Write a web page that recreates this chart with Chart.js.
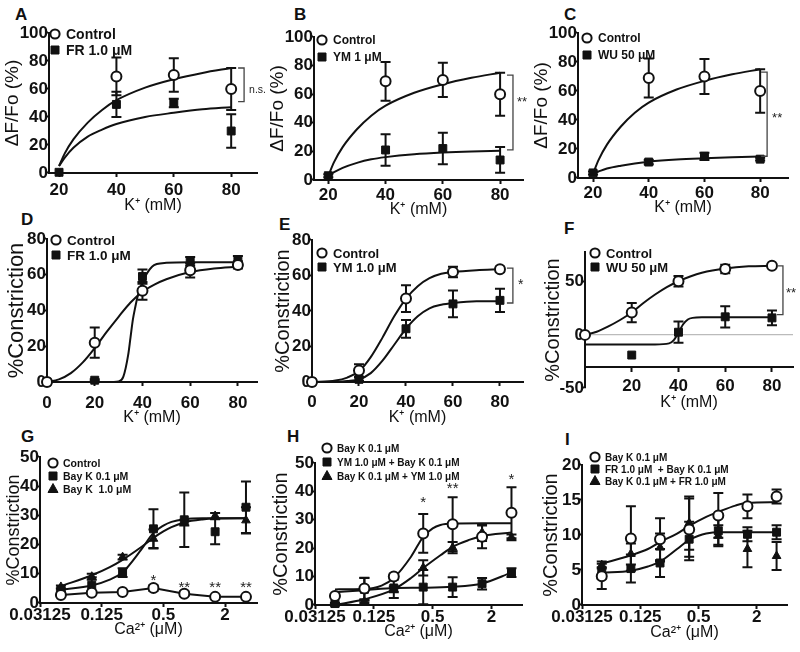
<!DOCTYPE html>
<html>
<head>
<meta charset="utf-8">
<script src="https://cdn.jsdelivr.net/npm/chart.js@4.4.1/dist/chart.umd.min.js"></script>
<style>
  body { margin: 0; background: #fff; width: 800px; height: 652px; overflow: hidden; position: relative; font-family: "Liberation Sans", Arial, sans-serif; }
  canvas { position: absolute; }
  .tag { position: absolute; font-weight: bold; font-size: 17px; line-height: 1; color: #111; }
</style>
</head>
<body>
<div class="tag" style="left:15px;top:6px">A</div>
<div class="tag" style="left:294px;top:6px">B</div>
<div class="tag" style="left:564px;top:6px">C</div>
<div class="tag" style="left:21px;top:211px">D</div>
<div class="tag" style="left:279px;top:216px">E</div>
<div class="tag" style="left:564px;top:220px">F</div>
<div class="tag" style="left:21px;top:428px">G</div>
<div class="tag" style="left:287px;top:428px">H</div>
<div class="tag" style="left:565px;top:431px">I</div>

<script>
// ---- K+ panels, Ca2+ fluorescence (A-C) ----
const kConc = [20, 40, 60, 80];
const kTicks = [20, 40, 60, 80];
const pctTicks = [0, 20, 40, 60, 80, 100];

const aControl = [null, 69, 70, 60];
const aControlErr = [0, 13.5, 12, 15];
const aFR = [0.5, 49, 50, 30];
const aFRErr = [0, 9, 3, 12];

const bControl = [null, 69, 70, 60];
const bControlErr = [0, 13.5, 12, 15];
const bYM = [3, 21, 22, 14];
const bYMErr = [1, 11, 11, 9];

const cControl = [null, 69, 70, 60];
const cControlErr = [0, 13.5, 12, 15];
const cWU = [3.5, 11, 15, 13];
const cWUErr = [1, 1.5, 2.5, 1];

// fitted curves
const fitK = [20, 22, 25, 30, 35, 40, 50, 60, 70, 80];
const aControlFit = [5, 14, 24, 36, 45, 52, 61, 67, 71.5, 75];
const aFRFit = [5, 11, 18, 26, 31, 35, 40, 43, 45.5, 47];
const bControlFit = [3, 12.5, 23, 35.5, 45, 52, 61, 67, 71.5, 75];
const bYMFit = [3, 5.5, 8.5, 12, 14.5, 16, 18, 19.2, 20, 20.5];
const cControlFit = [3, 12.5, 23, 35.5, 45, 52, 61, 67, 71.5, 75];
const cWUFit = [3, 4.5, 6.5, 8.5, 10, 11.2, 12.7, 13.6, 14.3, 14.8];

// ---- K+ panels, constriction (D-F) ----
const kConcD = [0, 20, 40, 60, 80];
const kTicksD = [0, 20, 40, 60, 80];
const conTicksD = [0, 20, 40, 60, 80];
const conTicksF = [-50, 0, 50];

const dControl = [0, 22, 51, 62.5, 65.5];
const dControlErr = [0, 8.5, 5, 4, 2];
const dFR = [0, 1, 59, 67.5, 68];
const dFRErr = [0, 0.5, 4, 2.5, 2.5];
const dControlFitX = [0, 5, 10, 15, 20, 25, 30, 35, 40, 45, 50, 60, 70, 80];
const dControlFit = [0, 1.5, 5, 11, 19, 28, 36.5, 44.5, 50.5, 54.5, 57.5, 61.5, 63.5, 64.5];
const dFRFitX = [0, 10, 20, 28, 30, 32, 34, 35, 36, 37, 38, 39, 40, 42, 44, 46, 50, 60, 70, 80];
const dFRFit = [0, 0, 0, 0, 0.3, 3, 15, 25, 35, 42, 48, 52, 56, 61, 64.5, 66, 66.7, 67, 67, 67];

const eControl = [0, 6.5, 47, 62, 63.5];
const eControlErr = [0, 3.5, 7.5, 3, 1.5];
const eYM = [0, 1.5, 30, 44, 46];
const eYMErr = [0, 1, 5, 7.5, 6.5];
const eFitX = [0, 10, 15, 20, 25, 30, 35, 40, 45, 50, 55, 60, 70, 80];
const eControlFit = [0, 0.8, 2.5, 6, 14, 25, 37, 47, 54, 58.5, 61, 62, 63, 63.5];
const eYMFit = [0, 0.2, 0.6, 1.5, 5, 12, 21, 30, 37, 41.5, 43.5, 44.5, 45.5, 45.5];

const fControl = [0, 21, 50.5, 62, 65];
const fControlErr = [0, 9, 5, 4, 1];
const fWU = [null, -19, 2.5, 17, 16];
const fWUErr = [0, 0, 10, 10, 7];
const fControlFitX = [0, 5, 10, 15, 20, 25, 30, 35, 40, 45, 50, 60, 70, 80];
const fControlFit = [0, 3, 8, 14, 21, 30, 38, 45, 50.5, 55, 58.5, 62.5, 64.5, 65];
const fWUFitX = [0, 30, 36, 38, 40, 42, 44, 46, 50, 60, 80];
const fWUFit = [-9, -9, -8, -5, 2, 10, 14.5, 16, 16.5, 16.5, 16.5];

// ---- Ca2+ panels (G-I) ----
const caConc = [0.05, 0.1, 0.2, 0.4, 0.8, 1.6, 3.2];
const caTicks = [0.03125, 0.125, 0.5, 2];
const conTicksGH = [0, 10, 20, 30, 40, 50];
const conTicksI = [0, 5, 10, 15, 20];

const gControl = [2.7, 3.5, 3.8, 5.1, 3.2, 2.1, 2.1];
const gControlErr = [0.3, 0.3, 0.3, 1, 0.8, 0.6, 0.4];
const gBay01 = [4.5, 6.1, 10.4, 25.4, 28.5, 24.4, 32.8];
const gBay01Err = [0.5, 2.7, 1.5, 6.7, 9.3, 4.3, 8.8];
const gBay1 = [5.5, 9, 15.7, 22, 27.5, 29.8, 28.3];
const gBay1Err = [0.5, 1, 0.8, 3.2, 1, 1, 4.5];
const gFitX = [0.05, 0.1, 0.15, 0.2, 0.3, 0.4, 0.5, 0.6, 0.8, 1.2, 1.6, 3.2];
const gBay01Fit = [4.5, 6, 8, 10.5, 18, 24, 26.5, 27.8, 28.7, 29, 29, 29];
const gBay1Fit = [5.8, 9.5, 12.3, 14.8, 19, 22.3, 24.5, 26, 27.6, 28.6, 28.9, 29];
const gSigX = [0.4, 0.8, 1.6, 3.2];
const gSigY = [9.2, 6.7, 6.7, 6.7];
const gSigText = ['*', '**', '**', '**'];

const hBay01 = [3.2, 5.8, 10, 25.2, 28.4, 24, 32.5];
const hBay01Err = [0.5, 3.8, 1, 6.8, 9.5, 4, 9];
const hYMBay = [0.5, 5.5, 6, 6.3, 6.3, 7.5, 11.4];
const hYMBayErr = [0.3, 4, 3.5, 6, 3.5, 2, 1.5];
const hBayYM = [0.2, 1.2, 5.5, 13.1, 20.2, 25.5, 23.8];
const hBayYMErr = [0.3, 0.5, 1, 2.7, 2, 3, 1];
const hBay01FitX = [0.05, 0.1, 0.15, 0.2, 0.3, 0.4, 0.5, 0.6, 0.8, 1.6, 3.2];
const hBay01Fit = [5.5, 5.6, 6.8, 9.5, 17, 24, 27, 28.2, 28.7, 28.8, 28.8];
const hBayYMFitX = [0.05, 0.1, 0.2, 0.3, 0.4, 0.6, 0.8, 1.2, 1.6, 3.2];
const hBayYMFit = [0, 2, 5.5, 9.5, 13, 17.5, 20.5, 23, 24.3, 25.5];
const hYMBayFit = [4.5, 5.2, 6, 6.1, 6.4, 7.6, 11.4];
const hSigX = [0.4, 0.8, 3.2];
const hSigY = [37.7, 42.6, 45.8];
const hSigText = ['*', '**', '*'];

const iBay01 = [4.1, 9.5, 9.4, 10.8, 12.8, 14.1, 15.5];
const iBay01Err = [1.8, 4.6, 3, 4.4, 3.2, 1.7, 1];
const iFRBay = [4.6, 5.2, 6, 9.4, 10.6, 10.1, 10.4];
const iFRBayErr = [0.8, 2, 2, 2.5, 2, 1, 1];
const iBayFR = [5.7, 7.3, 8.2, 11.7, 9.9, 8, 7];
const iBayFRErr = [0.5, 1.5, 2, 3.8, 1.5, 2.6, 2];
const iBay01FitX = [0.05, 0.1, 0.15, 0.2, 0.3, 0.4, 0.6, 0.8, 1.2, 1.6, 3.2];
const iBay01Fit = [5.9, 7.1, 8, 9, 10.2, 11.3, 12.6, 13.3, 14.2, 14.6, 14.7];
const iFRBayFitX = [0.05, 0.1, 0.15, 0.2, 0.3, 0.4, 0.5, 0.6, 0.8, 1.6, 3.2];
const iFRBayFit = [4.6, 4.9, 5.5, 6.2, 8, 9.3, 9.9, 10.2, 10.4, 10.4, 10.4];

const FONT = '"Liberation Sans", Arial, sans-serif';

function pts(xs, ys) {
  return xs.map((x, i) => ({ x, y: ys[i] }));
}

// marker datasets carry their SEM in "errors"
function pointSet(label, xs, ys, errs, shape, joined) {
  const open = shape === 'open';
  return {
    label,
    data: pts(xs, ys),
    errors: errs,
    shape,
    showLine: !!joined,
    borderColor: '#111',
    borderWidth: 2,
    tension: 0,
    pointStyle: open ? 'circle' : shape,
    pointRadius: shape === 'rect' ? 5.6 : 5,
    pointBackgroundColor: open ? '#fff' : '#111',
    pointBorderColor: '#111',
    pointBorderWidth: open ? 2 : 1,
    clip: false,
  };
}

function fitSet(xs, ys) {
  return {
    data: pts(xs, ys),
    showLine: true,
    pointRadius: 0,
    borderColor: '#111',
    borderWidth: 2,
    cubicInterpolationMode: 'monotone',
    clip: false,
  };
}

function drawMarker(ctx, shape, x, y) {
  ctx.save();
  ctx.strokeStyle = '#111';
  ctx.fillStyle = shape === 'open' ? '#fff' : '#111';
  ctx.lineWidth = shape === 'open' ? 2 : 1;
  ctx.beginPath();
  if (shape === 'open') ctx.arc(x, y, 4.6, 0, Math.PI * 2);
  else if (shape === 'rect') ctx.rect(x - 4, y - 4, 8, 8);
  else {
    ctx.moveTo(x, y - 5.5);
    ctx.lineTo(x + 5, y + 3.5);
    ctx.lineTo(x - 5, y + 3.5);
    ctx.closePath();
  }
  ctx.fill();
  ctx.stroke();
  ctx.restore();
}

// error bars under the marks, legend / brackets / stars on top
function marksPlugin(p) {
  return {
    id: 'marks' + p.tag,
    beforeDatasetsDraw(chart) {
      const { ctx, scales: { x, y } } = chart;
      ctx.save();
      ctx.strokeStyle = '#111';
      ctx.lineWidth = 2;
      chart.data.datasets.forEach((ds) => {
        if (!ds.errors) return;
        ds.data.forEach((pt, i) => {
          const e = ds.errors[i];
          if (pt.y == null || !e) return;
          const px = x.getPixelForValue(pt.x);
          const top = y.getPixelForValue(pt.y + e);
          const bot = y.getPixelForValue(pt.y - e);
          ctx.beginPath();
          ctx.moveTo(px, top); ctx.lineTo(px, bot);
          ctx.moveTo(px - 5, top); ctx.lineTo(px + 5, top);
          ctx.moveTo(px - 5, bot); ctx.lineTo(px + 5, bot);
          ctx.stroke();
        });
      });
      ctx.restore();
    },
    afterDatasetsDraw(chart) {
      const { ctx, chartArea, scales: { x, y } } = chart;
      ctx.save();
      // legend
      const lg = p.legend;
      ctx.font = `bold ${lg.size}px ${FONT}`;
      ctx.textBaseline = 'middle';
      ctx.textAlign = 'left';
      ctx.fillStyle = '#111';
      let row = 0;
      chart.data.datasets.forEach((ds) => {
        if (!ds.label) return;
        const mx = chartArea.left + lg.dx;
        const my = chartArea.top + lg.dy + row * lg.gap;
        drawMarker(ctx, ds.shape, mx, my);
        ctx.fillText(ds.label, mx + lg.tx, my + 1);
        row++;
      });
      // significance bracket
      if (p.bracket) {
        const b = p.bracket;
        const bx = x.getPixelForValue(b.x);
        const b1 = y.getPixelForValue(b.y1);
        const b2 = y.getPixelForValue(b.y2);
        ctx.strokeStyle = '#444';
        ctx.lineWidth = 1.3;
        ctx.beginPath();
        ctx.moveTo(bx - 6, b1); ctx.lineTo(bx, b1); ctx.lineTo(bx, b2); ctx.lineTo(bx - 6, b2);
        ctx.stroke();
        ctx.fillStyle = '#222';
        ctx.font = `${b.size}px ${FONT}`;
        ctx.fillText(b.text, bx + b.dx, y.getPixelForValue(b.ty) + b.shift);
      }
      // stars above points
      if (p.stars) {
        const s = p.stars;
        ctx.fillStyle = '#222';
        ctx.font = `${s.size}px ${FONT}`;
        ctx.textAlign = 'center';
        ctx.textBaseline = 'alphabetic';
        s.xs.forEach((v, i) => {
          ctx.fillText(s.texts[i], x.getPixelForValue(v), y.getPixelForValue(s.ys[i]) + 0.58 * s.size);
        });
      }
      ctx.restore();
    },
  };
}

function axisFont(size, weight) {
  return { family: FONT, size, weight: weight || 'normal', lineHeight: 1 };
}

function makePanel(p) {
  const padTop = p.T - p.top;
  const padBottom = p.padB || 0;
  const w = p.yW + (p.R - p.L) + p.padR;
  const h = padTop + (p.B - p.T) + (p.xAt != null ? padBottom : p.xH);
  const canvas = document.createElement('canvas');
  canvas.width = w;
  canvas.height = h;
  canvas.style.left = (p.L - p.yW) + 'px';
  canvas.style.top = p.top + 'px';
  canvas.style.width = w + 'px';
  canvas.style.height = h + 'px';
  document.body.appendChild(canvas);

  return new Chart(canvas.getContext('2d'), {
    type: 'scatter',
    data: { datasets: p.sets },
    options: {
      responsive: false,
      animation: false,
      events: [],
      layout: { padding: { top: padTop, right: p.padR, bottom: padBottom, left: 0 } },
      plugins: { legend: { display: false }, tooltip: { enabled: false } },
      scales: {
        x: {
          type: p.log ? 'logarithmic' : 'linear',
          min: p.xMin,
          max: p.xMax,
          position: p.xAt != null ? { y: p.xAt } : 'bottom',
          afterBuildTicks: (s) => { s.ticks = p.xTicks.map((v) => ({ value: v })); },
          afterFit: (s) => { if (p.xAt == null) s.height = p.xH; },
          border: { display: true, color: '#111', width: 2 },
          grid: { drawOnChartArea: false, tickLength: 4, tickColor: '#111', tickWidth: 2 },
          ticks: {
            color: '#111', font: axisFont(17, 'bold'), padding: p.xPad,
            maxRotation: 0, autoSkip: false, callback: (v) => String(v),
          },
          title: {
            display: true, text: p.xTitle, color: '#111', font: axisFont(16),
            padding: { top: p.xTP || 0, bottom: 0 },
          },
        },
        y: {
          min: p.yMin,
          max: p.yMax,
          afterBuildTicks: (s) => { s.ticks = p.yTicks.map((v) => ({ value: v })); },
          afterFit: (s) => { s.width = p.yW; },
          border: { display: true, color: '#111', width: 2 },
          grid: {
            drawOnChartArea: !!p.zeroLine,
            color: (c) => (p.zeroLine && c.tick && c.tick.value === 0 ? '#bbb' : 'rgba(0,0,0,0)'),
            lineWidth: 1.2,
            tickLength: 3, tickColor: '#111', tickWidth: 2,
          },
          ticks: { color: '#111', font: axisFont(17, 'bold'), padding: -2, callback: (v) => String(v) },
          title: {
            display: true, text: p.yTitle, color: '#111', font: axisFont(p.yTS),
            padding: { top: p.yTP, bottom: 0 },
          },
        },
      },
    },
    plugins: [marksPlugin(p)],
  });
}

const panels = [
  {
    tag: 'A', L: 49, T: 33, R: 257, B: 173, top: 0, yW: 49, padR: 22, xH: 41, xPad: 4.5,
    xMin: 16.5, xMax: 89, xTicks: kTicks, yMin: 0, yMax: 100, yTicks: pctTicks,
    yTitle: 'ΔF/Fo (%)', yTS: 19, yTP: 3.5, xTitle: 'K⁺ (mM)',
    sets: [
      pointSet('Control', kConc, aControl, aControlErr, 'open'),
      pointSet('FR 1.0 μM', kConc, aFR, aFRErr, 'rect'),
      fitSet(fitK, aControlFit), fitSet(fitK, aFRFit),
    ],
    legend: { dx: 6, dy: 1, gap: 16, size: 14, tx: 11 },
    bracket: { x: 84.5, y1: 75, y2: 51, text: 'n.s.', ty: 59, dx: 5, shift: 0, size: 10.5 },
  },
  {
    tag: 'B', L: 314, T: 37, R: 523, B: 180, top: 0, yW: 49, padR: 15, xH: 38, xPad: 2.5,
    xMin: 15, xMax: 88, xTicks: kTicks, yMin: 0, yMax: 100, yTicks: pctTicks,
    yTitle: 'ΔF/Fo (%)', yTS: 19, yTP: 3, xTitle: 'K⁺ (mM)',
    sets: [
      pointSet('Control', kConc, bControl, bControlErr, 'open'),
      pointSet('YM 1 μM', kConc, bYM, bYMErr, 'rect'),
      fitSet(fitK, bControlFit), fitSet(fitK, bYMFit),
    ],
    legend: { dx: 8, dy: 3, gap: 17, size: 12, tx: 11 },
    bracket: { x: 84.5, y1: 73.4, y2: 21, text: '**', ty: 56, dx: 4, shift: 3, size: 13 },
  },
  {
    tag: 'C', L: 578, T: 33, R: 788, B: 178, top: 0, yW: 48, padR: 12, xH: 38, xPad: 2.5,
    xMin: 14.6, xMax: 90, xTicks: kTicks, yMin: 0, yMax: 100, yTicks: pctTicks,
    yTitle: 'ΔF/Fo (%)', yTS: 19, yTP: 2, xTitle: 'K⁺ (mM)',
    sets: [
      pointSet('Control', kConc, cControl, cControlErr, 'open'),
      pointSet('WU 50 μM', kConc, cWU, cWUErr, 'rect'),
      fitSet(fitK, cControlFit), fitSet(fitK, cWUFit),
    ],
    legend: { dx: 9, dy: 5, gap: 17, size: 12, tx: 11 },
    bracket: { x: 82.5, y1: 73, y2: 15, text: '**', ty: 43.5, dx: 5, shift: 3, size: 13 },
  },
  {
    tag: 'D', L: 47, T: 239, R: 257, B: 382, top: 205, yW: 47, padR: 20, xH: 44, xPad: 8.5,
    xMin: 0, xMax: 88, xTicks: kTicksD, yMin: 0, yMax: 80, yTicks: conTicksD,
    yTitle: '%Constriction', yTS: 22, yTP: 6, xTitle: 'K⁺ (mM)',
    sets: [
      pointSet('Control', kConcD, dControl, dControlErr, 'open'),
      pointSet('FR 1.0 μM', kConcD, dFR, dFRErr, 'rect'),
      fitSet(dControlFitX, dControlFit), fitSet(dFRFitX, dFRFit),
    ],
    legend: { dx: 9, dy: 1, gap: 15, size: 13.5, tx: 11 },
  },
  {
    tag: 'E', L: 312, T: 240, R: 523, B: 382, top: 205, yW: 47, padR: 15, xH: 44, xPad: 7.5,
    xMin: 0, xMax: 89.8, xTicks: kTicksD, yMin: 0, yMax: 80, yTicks: conTicksD,
    yTitle: '%Constriction', yTS: 20, yTP: 8, xTitle: 'K⁺ (mM)',
    sets: [
      pointSet('Control', kConcD, eControl, eControlErr, 'open'),
      pointSet('YM 1.0 μM', kConcD, eYM, eYMErr, 'rect'),
      fitSet(eFitX, eControlFit), fitSet(eFitX, eYMFit),
    ],
    legend: { dx: 10, dy: 13, gap: 14, size: 13, tx: 11 },
    bracket: { x: 85.5, y1: 64.2, y2: 44.5, text: '*', ty: 56, dx: 5, shift: 3, size: 14 },
  },
  {
    tag: 'F', L: 585, T: 252, R: 793, B: 388, top: 205, yW: 55, padR: 7, padB: 26, xPad: 7.5, xTP: -8,
    xAt: -30, zeroLine: true,
    xMin: 0, xMax: 89, xTicks: kTicks, yMin: -50, yMax: 78, yTicks: conTicksF,
    yTitle: '%Constriction', yTS: 20, yTP: 13, xTitle: 'K⁺ (mM)',
    sets: [
      pointSet('Control', kConcD, fControl, fControlErr, 'open'),
      pointSet('WU 50 μM', kConcD, fWU, fWUErr, 'rect'),
      fitSet(fControlFitX, fControlFit), fitSet(fWUFitX, fWUFit),
    ],
    legend: { dx: 10, dy: 1, gap: 14, size: 13, tx: 11 },
    bracket: { x: 84.7, y1: 65, y2: 19, text: '**', ty: 42, dx: 3, shift: 3, size: 13 },
  },
  {
    tag: 'G', L: 40, T: 457, R: 257, B: 603, top: 415, yW: 40, padR: 20, xH: 35, xPad: 0, log: true,
    xMin: 0.03125, xMax: 4.1, xTicks: caTicks, yMin: 0, yMax: 50, yTicks: conTicksGH,
    yTitle: '%Constriction', yTS: 18, yTP: 5, xTitle: 'Ca²⁺ (μM)',
    sets: [
      pointSet('Control', caConc, gControl, gControlErr, 'open', true),
      pointSet('Bay K 0.1 μM', caConc, gBay01, gBay01Err, 'rect'),
      pointSet('Bay K  1.0 μM', caConc, gBay1, gBay1Err, 'triangle'),
      fitSet(gFitX, gBay01Fit), fitSet(gFitX, gBay1Fit),
    ],
    legend: { dx: 13, dy: 6, gap: 13, size: 10.5, tx: 10 },
    stars: { xs: gSigX, ys: gSigY, texts: gSigText, size: 15 },
  },
  {
    tag: 'H', L: 315, T: 463, R: 522, B: 605, top: 415, yW: 50, padR: 15, xH: 35, xPad: 0, log: true,
    xMin: 0.03125, xMax: 4.1, xTicks: caTicks, yMin: 0, yMax: 50, yTicks: conTicksGH,
    yTitle: '%Constriction', yTS: 20, yTP: 6, xTitle: 'Ca²⁺ (μM)',
    sets: [
      pointSet('Bay K 0.1 μM', caConc, hBay01, hBay01Err, 'open'),
      pointSet('YM 1.0 μM + Bay K 0.1 μM', caConc, hYMBay, hYMBayErr, 'rect'),
      pointSet('Bay K 0.1 μM + YM 1.0 μM', caConc, hBayYM, hBayYMErr, 'triangle'),
      fitSet(hBay01FitX, hBay01Fit), fitSet(caConc, hYMBayFit), fitSet(hBayYMFitX, hBayYMFit),
    ],
    legend: { dx: 12, dy: -15, gap: 14, size: 10, tx: 10 },
    stars: { xs: hSigX, ys: hSigY, texts: hSigText, size: 15 },
  },
  {
    tag: 'I', L: 582, T: 465, R: 787, B: 605, top: 415, yW: 52, padR: 13, xH: 36, xPad: 0, log: true,
    xMin: 0.03125, xMax: 4.1, xTicks: caTicks, yMin: 0, yMax: 20, yTicks: conTicksI,
    yTitle: '%Constriction', yTS: 20, yTP: 11, xTitle: 'Ca²⁺ (μM)',
    sets: [
      pointSet('Bay K 0.1 μM', caConc, iBay01, iBay01Err, 'open'),
      pointSet('FR 1.0 μM  + Bay K 0.1 μM', caConc, iFRBay, iFRBayErr, 'rect'),
      pointSet('Bay K 0.1 μM + FR 1.0 μM', caConc, iBayFR, iBayFRErr, 'triangle'),
      fitSet(iBay01FitX, iBay01Fit), fitSet(iFRBayFitX, iFRBayFit),
    ],
    legend: { dx: 13, dy: -8, gap: 12, size: 10, tx: 10 },
  },
];

panels.forEach(makePanel);
</script>
</body>
</html>
